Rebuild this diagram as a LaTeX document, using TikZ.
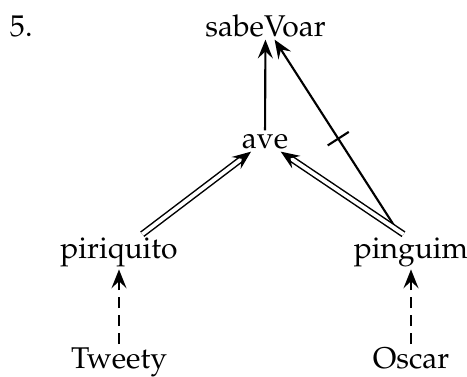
\documentclass[tikz,border=0pt]{standalone}
\usepackage[T1]{fontenc}
\usepackage{mathpazo}
\usetikzlibrary{arrows.meta,calc}
\begin{document}
\begin{tikzpicture}[x=0.4pt,y=-0.4pt,
  lbl/.style={anchor=base,inner sep=1pt,font=\fontsize{12}{14}\selectfont},
  tip/.style={-{Stealth[length=7.5pt,width=6pt,inset=2.8pt]}},
  arr/.style={tip,line width=0.85pt},
  dbl/.style={tip,double,double distance=1.5pt,line width=0.6pt},
  dsh/.style={arr,dash pattern=on 4.4pt off 2.8pt}]
\useasboundingbox (0,0) rectangle (467,376);
\node[lbl,anchor=base west] (num) at (7,36) {5.};
\node[lbl] (sabeVoar) at (265.5,36) {sabeVoar};
\node[lbl] (ave) at (265,148) {ave};
\node[lbl] (piriquito) at (119,258) {piriquito};
\node[lbl] (pinguim) at (411,258) {pinguim};
\node[lbl] (Tweety) at (119,368) {Tweety};
\node[lbl] (Oscar) at (411,368) {Oscar};
\draw[arr] (ave) -- (sabeVoar);
\draw[arr] (pinguim) -- (sabeVoar);
\coordinate (m) at ($(pinguim)!0.5!(sabeVoar)$);
\draw[line width=0.85pt] ($(m)!5pt!90:(sabeVoar)$) -- ($(m)!5pt!-90:(sabeVoar)$);
\draw[dbl] (piriquito) -- (ave);
\draw[dbl] ([xshift=-3pt]pinguim.north) -- (ave);
\draw[dsh] (Tweety) -- (piriquito);
\draw[dsh] (Oscar) -- (pinguim);
\end{tikzpicture}
\end{document}
